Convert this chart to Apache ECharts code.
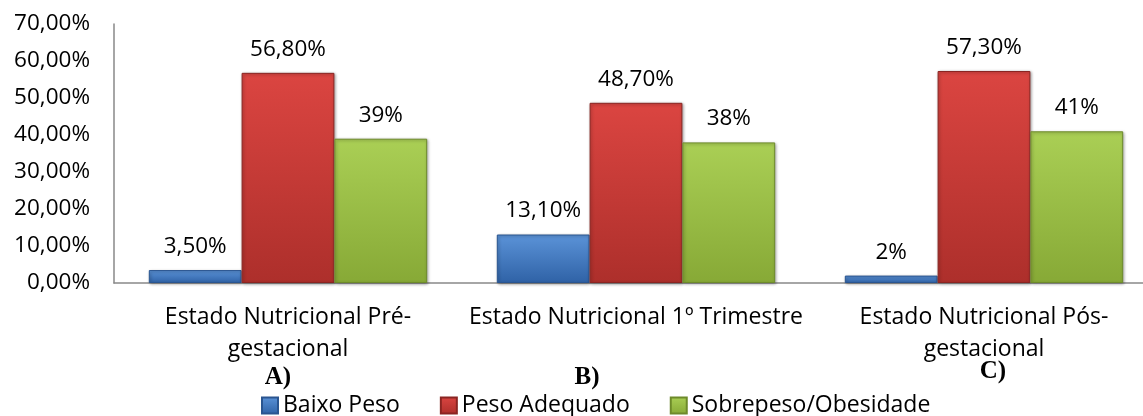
<!DOCTYPE html>
<html>
<head>
<meta charset="utf-8">
<script src="https://cdn.jsdelivr.net/npm/echarts@6/dist/echarts.min.js"></script>
<style>
html,body{margin:0;padding:0;background:#fff;}
#main{width:1143px;height:416px;}
</style>
</head>
<body>
<div id="main"></div>
<script>
var categories = ["Estado Nutricional Pré-\ngestacional", "Estado Nutricional 1º Trimestre", "Estado Nutricional Pós-\ngestacional"];
var seriesNames = ["Baixo Peso", "Peso Adequado", "Sobrepeso/Obesidade"];
var baixoPeso = [3.5, 13.1, 2];
var pesoAdequado = [56.8, 48.7, 57.3];
var sobrepeso = [39, 38, 41];
var baixoPesoLabels = ["3,50%", "13,10%", "2%"];
var pesoAdequadoLabels = ["56,80%", "48,70%", "57,30%"];
var sobrepesoLabels = ["39%", "38%", "41%"];
var panelLetters = ["A)", "B)", "C)"];

var FONT = "'Open Sans', sans-serif";
var chart = echarts.init(document.getElementById('main'), null, {renderer: 'canvas'});

function grad(top, bottom) {
  return new echarts.graphic.LinearGradient(0, 0, 0, 1, [
    {offset: 0, color: top}, {offset: 1, color: bottom}
  ]);
}
function mkSeries(name, data, labels, top, bottom, border) {
  return {
    name: name,
    type: 'bar',
    data: data,
    barGap: '0%',
    barCategoryGap: '20%',
    itemStyle: {
      color: grad(top, bottom),
      borderColor: border,
      borderWidth: 1,
      shadowColor: 'rgba(0,0,0,0.35)',
      shadowBlur: 3,
      shadowOffsetX: 1,
      shadowOffsetY: 1
    },
    label: {
      show: true,
      position: 'top',
      distance: 12,
      fontFamily: FONT,
      fontSize: 22.5,
      color: '#000',
      formatter: function (p) { return labels[p.dataIndex]; }
    }
  };
}

var letterFont = 'bold 25px "Liberation Serif", "Times New Roman", serif';
var option = {
  animation: false,
  grid: {left: 114, top: 24, width: 1044, height: 259, containLabel: false, outerBoundsMode: 'none'},
  legend: {
    left: 256,
    top: 389,
    itemWidth: 16,
    itemHeight: 16,
    itemGap: 40,
    icon: 'rect',
    textStyle: {fontFamily: FONT, fontSize: 23, color: '#000'},
    data: seriesNames
  },
  xAxis: {
    type: 'category',
    data: categories,
    axisLine: {lineStyle: {color: '#898989', width: 1.5}},
    axisTick: {show: false},
    axisLabel: {
      interval: 0,
      margin: 18,
      fontFamily: FONT,
      fontSize: 23,
      lineHeight: 32,
      color: '#000'
    }
  },
  yAxis: {
    type: 'value',
    min: 0,
    max: 70,
    interval: 10,
    axisLine: {show: true, lineStyle: {color: '#898989', width: 1.5}},
    axisTick: {show: false},
    splitLine: {show: false},
    axisLabel: {
      margin: 24,
      fontFamily: FONT,
      fontSize: 22.5,
      color: '#000',
      formatter: function (v) { return v.toFixed(2).replace('.', ',') + '%'; }
    }
  },
  graphic: [
    {type: 'text', x: 278, y: 378, style: {text: panelLetters[0], font: letterFont, fill: '#000', align: 'center', verticalAlign: 'middle'}},
    {type: 'text', x: 587, y: 378, style: {text: panelLetters[1], font: letterFont, fill: '#000', align: 'center', verticalAlign: 'middle'}},
    {type: 'text', x: 993, y: 372, style: {text: panelLetters[2], font: letterFont, fill: '#000', align: 'center', verticalAlign: 'middle'}}
  ],
  series: [
    mkSeries(seriesNames[0], baixoPeso, baixoPesoLabels, '#5b93d8', '#2f62a6', '#2a5590'),
    mkSeries(seriesNames[1], pesoAdequado, pesoAdequadoLabels, '#db4541', '#ad2f2b', '#8a2522'),
    mkSeries(seriesNames[2], sobrepeso, sobrepesoLabels, '#aacf55', '#87a936', '#6d8a2a')
  ]
};
chart.setOption(option);
</script>
</body>
</html>
